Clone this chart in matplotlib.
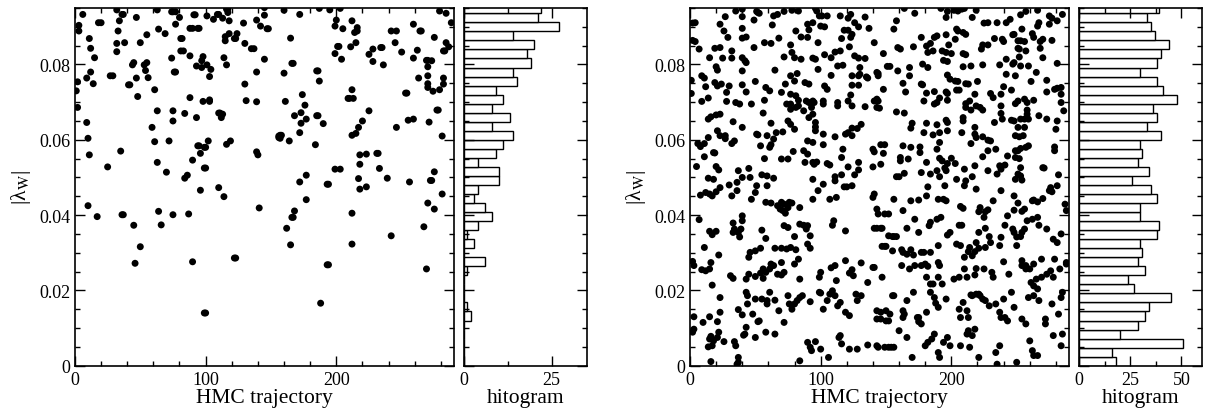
import matplotlib
matplotlib.use("Agg")
import matplotlib.pyplot as plt
from matplotlib.ticker import MultipleLocator, FuncFormatter

# |lambda_W| per HMC trajectory (trajectory, value)
left_points = [
    (1, .0730), (2, .0754), (2, .0686), (3, .0904), (3, .0889), (6, .0933), (9, .0764), (9, .0646),
    (10, .0604), (10, .0425), (11, .0869), (11, .0560), (12, .0843), (12, .0780), (14, .0749),
    (15, .0818), (17, .0396), (18, .0911), (20, .0911), (25, .0528), (27, .0770), (29, .0770),
    (32, .0945), (33, .0889), (34, .0916), (32, .0856), (32, .0834), (35, .0570), (36, .0933),
    (37, .0933), (38, .0858), (36, .0401), (37, .0401), (41, .0746), (42, .0746), (44, .0799),
    (45, .0805), (45, .0373), (46, .0272), (47, .0925), (47, .0764), (48, .0715), (50, .0858),
    (50, .0316), (53, .0799), (55, .0805), (55, .0879), (54, .0784), (56, .0765), (59, .0633),
    (61, .0733), (61, .0595), (63, .0945), (63, .0677), (63, .0540), (64, .0894), (64, .0410),
    (66, .0374), (69, .0882), (70, .0514), (72, .0597), (74, .0817), (74, .0940), (75, .0940),
    (75, .0677), (75, .0650), (75, .0401), (76, .0780), (77, .0780), (77, .0940), (77, .0907),
    (80, .0925), (81, .0869), (82, .0869), (81, .0836), (83, .0836), (84, .0498), (84, .0670),
    (86, .0506), (87, .0403), (88, .0712), (88, .0823), (88, .0896), (90, .0896), (90, .0546),
    (90, .0276), (91, .0932), (92, .0932), (93, .0796), (93, .0659), (94, .0896), (95, .0896),
    (94, .0584), (95, .0584), (96, .0564), (96, .0466), (97, .0792), (97, .0810), (98, .0821),
    (98, .0702), (99, .0580), (100, .0580), (99, .0525), (100, .0525), (99, .0140), (100, .0140),
    (101, .0929), (101, .0799), (102, .0597), (103, .0768), (103, .0702), (103, .0706), (104, .0787),
    (106, .0920), (109, .0933), (110, .0933), (110, .0671), (111, .0671), (110, .0473), (112, .0659),
    (113, .0923), (113, .0668), (114, .0818), (114, .0449), (115, .0863), (115, .0874), (116, .0947),
    (117, .0947), (116, .0799), (116, .0588), (117, .0938), (118, .0916), (118, .0882), (119, .0597),
    (122, .0869), (123, .0869), (124, .0882), (122, .0286), (123, .0286), (129, .0910), (130, .0856),
    (130, .0748), (131, .0704), (135, .0842), (137, .0842), (139, .0918), (139, .0780), (139, .0701),
    (139, .0568), (140, .0560), (141, .0419), (142, .0902), (145, .0931), (145, .0951), (145, .0814),
    (147, .0895), (148, .0895), (156, .0606), (157, .0612), (158, .0612), (156, .0610), (157, .0604),
    (160, .0944), (160, .0777), (161, .0702), (162, .0365), (164, .0597), (165, .0870), (165, .0321),
    (166, .0803), (167, .0803), (166, .0394), (167, .0394), (168, .0411), (168, .0664), (172, .0619),
    (172, .0488), (172, .0933), (173, .0672), (173, .0644), (174, .0720), (176, .0692), (177, .0655),
    (177, .0441), (177, .0506), (184, .0587), (185, .0783), (186, .0783), (185, .0664), (186, .0664),
    (187, .0949), (187, .0756), (188, .0166), (190, .0643), (193, .0482), (194, .0482), (193, .0268),
    (194, .0268), (195, .0945), (199, .0829), (199, .0902), (200, .0918), (201, .0848), (202, .0848),
    (199, .0522), (203, .0522), (203, .0949), (204, .0814), (205, .0895), (209, .0710), (210, .0710),
    (211, .0847), (212, .0733), (212, .0612), (212, .0405), (212, .0323), (212, .0916), (213, .0710),
    (214, .0885), (215, .0617), (215, .0858), (216, .0898), (216, .0889), (217, .0633), (217, .0497),
    (218, .0535), (218, .0560), (218, .0469), (220, .0650), (223, .0475), (223, .0562), (225, .0677),
    (225, .0827), (228, .0841), (228, .0808), (231, .0564), (232, .0564), (233, .0524), (234, .0845),
    (235, .0845), (236, .0799), (239, .0498), (242, .0889), (242, .0345), (245, .0858), (246, .0889),
    (246, .0633), (250, .0833), (253, .0724), (254, .0724), (256, .0488), (255, .0652), (259, .0655),
    (259, .0907), (259, .0817), (262, .0838), (263, .0764), (264, .0889), (265, .0889), (267, .0369),
    (269, .0257), (269, .0811), (270, .0811), (270, .0432), (270, .0794), (270, .0770), (270, .0749),
    (270, .0739), (271, .0647), (272, .0492), (273, .0492), (273, .0810), (274, .0729), (275, .0872),
    (275, .0515), (275, .0416), (277, .0679), (278, .0679), (279, .0942), (279, .0733), (281, .0610),
    (281, .0456), (282, .0764), (282, .0748), (282, .0836), (283, .0836), (284, .0858), (284, .0936),
    (286, .0847), (288, .0911),
]

right_points_upper = [
    (35, .0942), (40, .0947), (51, .0941), (52, .0938), (53, .0936), (78, .0944), (83, .0942), (27, .0927),
    (40, .0927), (49, .0918), (64, .0929), (67, .0933), (72, .0941), (2, .0910), (4, .0911), (23, .0907),
    (63, .0905), (90, .0907), (94, .0911), (26, .0889), (40, .0896), (81, .0889), (91, .0892), (2, .0864),
    (4, .0861), (29, .0872), (40, .0870), (43, .0873), (57, .0858), (62, .0856), (68, .0870), (85, .0873),
    (90, .0872), (7, .0841), (19, .0843), (23, .0845), (32, .0836), (49, .0845), (77, .0852), (15, .0818),
    (25, .0817), (32, .0817), (40, .0818), (42, .0810), (43, .0805), (72, .0820), (78, .0832), (80, .0818),
    (85, .0814), (94, .0817), (20, .0794), (21, .0785), (40, .0783), (65, .0785), (9, .0770), (11, .0764),
    (1, .0758), (19, .0752), (21, .0743), (24, .0748), (30, .0743), (40, .0746), (50, .0755), (58, .0739),
    (61, .0730), (73, .0748), (77, .0770), (82, .0776), (80, .0756), (88, .0752), (91, .0748), (1, .0723),
    (12, .0741), (28, .0726), (43, .0727), (70, .0726), (77, .0721), (81, .0717), (9, .0702), (14, .0711),
    (28, .0702), (35, .0699), (38, .0695), (47, .0695), (57, .0705), (74, .0695), (77, .0695), (83, .0705),
    (89, .0703), (91, .0699), (93, .0686), (14, .0655), (16, .0661), (20, .0666), (23, .0668), (56, .0671),
    (77, .0681), (81, .0686), (83, .0690), (87, .0677), (94, .0668), (33, .0648), (40, .0633), (62, .0644),
    (75, .0650), (77, .0641), (21, .0624), (27, .0611), (51, .0615), (52, .0613), (59, .0611), (66, .0619),
    (71, .0621), (80, .0628), (6, .0590), (8, .0582), (11, .0590), (14, .0606), (23, .0611), (27, .0603),
    (32, .0590), (34, .0597), (54, .0584), (61, .0580), (62, .0587), (64, .0602), (90, .0597), (94, .0593),
    (18, .0566), (19, .0565), (11, .0555), (57, .0550), (70, .0549), (75, .0549), (79, .0569), (87, .0571),
    (90, .0562), (5, .0529), (20, .0529), (22, .0520), (37, .0518), (45, .0524), (55, .0507), (59, .0504),
    (88, .0540), (94, .0540), (14, .0498), (18, .0495), (30, .0480), (36, .0487), (40, .0500), (46, .0500),
    (51, .0478), (59, .0478), (64, .0498), (23, .0473), (94, .0495),
    (96, .0949), (97, .0942), (99, .0929), (101, .0929), (105, .0929), (115, .0929), (121, .0923),
    (123, .0933), (134, .0926), (164, .0949), (172, .0936), (100, .0902), (103, .0900), (118, .0891),
    (121, .0891), (126, .0911), (129, .0900), (137, .0896), (158, .0916), (156, .0894), (98, .0858),
    (116, .0869), (123, .0872), (124, .0880), (141, .0858), (159, .0845), (161, .0841), (171, .0847),
    (177, .0872), (181, .0849), (184, .0856), (187, .0872), (189, .0876), (96, .0814), (103, .0826),
    (108, .0818), (111, .0833), (115, .0836), (122, .0847), (126, .0823), (129, .0817), (134, .0816),
    (130, .0792), (98, .0787), (113, .0796), (117, .0798), (148, .0829), (182, .0832), (186, .0836),
    (178, .0801), (182, .0792), (108, .0771), (124, .0770), (129, .0770), (130, .0774), (135, .0767),
    (136, .0764), (143, .0779), (144, .0776), (144, .0770), (151, .0795), (153, .0795), (159, .0783),
    (168, .0792), (168, .0770), (103, .0743), (105, .0734), (124, .0745), (129, .0745), (148, .0734),
    (163, .0750), (165, .0727), (177, .0748), (178, .0746), (181, .0724), (187, .0728), (94, .0703),
    (95, .0699), (102, .0703), (102, .0695), (113, .0699), (113, .0690), (123, .0719), (121, .0703),
    (124, .0690), (134, .0688), (141, .0703), (143, .0708), (144, .0703), (143, .0686), (145, .0684),
    (179, .0703), (187, .0695), (189, .0699), (158, .0674), (164, .0671), (91, .0659), (96, .0646),
    (96, .0634), (96, .0624), (102, .0615), (111, .0608), (119, .0615), (121, .0619), (124, .0631),
    (124, .0611), (128, .0630), (131, .0641), (170, .0644), (169, .0631), (181, .0644), (189, .0640),
    (179, .0619), (102, .0587), (117, .0575), (140, .0575), (141, .0568), (146, .0587), (149, .0587),
    (148, .0564), (163, .0584), (169, .0580), (176, .0581), (176, .0566), (95, .0535), (97, .0541),
    (105, .0537), (107, .0533), (116, .0553), (121, .0528), (129, .0540), (129, .0520), (140, .0528),
    (146, .0535), (161, .0553), (161, .0544), (167, .0549), (181, .0540), (189, .0575), (102, .0482),
    (111, .0502), (111, .0491), (116, .0507), (126, .0507), (118, .0475), (120, .0475), (124, .0478),
    (158, .0502), (160, .0502), (164, .0511), (177, .0513), (184, .0509), (189, .0518), (182, .0475),
    (192, .0949), (197, .0941), (196, .0925), (202, .0944), (205, .0942), (208, .0947), (210, .0949),
    (216, .0925), (219, .0944), (225, .0910), (228, .0911), (235, .0911), (242, .0911), (245, .0920),
    (254, .0894), (253, .0932), (257, .0941), (266, .0944), (267, .0911), (266, .0902), (275, .0929),
    (277, .0923), (275, .0907), (281, .0916), (285, .0933), (196, .0879), (204, .0894), (205, .0889),
    (209, .0885), (211, .0880), (203, .0867), (198, .0852), (193, .0836), (196, .0832), (200, .0829),
    (209, .0829), (211, .0826), (223, .0841), (224, .0852), (228, .0852), (233, .0869), (239, .0867),
    (240, .0861), (247, .0879), (248, .0880), (251, .0863), (253, .0863), (256, .0861), (262, .0882),
    (263, .0872), (268, .0861), (270, .0867), (251, .0843), (252, .0841), (257, .0836), (268, .0843),
    (270, .0818), (277, .0864), (194, .0811), (197, .0808), (209, .0794), (215, .0796), (224, .0799),
    (237, .0799), (242, .0814), (247, .0801), (248, .0805), (252, .0820), (253, .0796), (259, .0796),
    (265, .0779), (281, .0803), (197, .0772), (199, .0761), (203, .0756), (205, .0755), (211, .0749),
    (213, .0748), (220, .0755), (242, .0774), (249, .0770), (261, .0755), (273, .0758), (279, .0734),
    (281, .0737), (284, .0739), (196, .0727), (197, .0723), (204, .0732), (206, .0732), (218, .0721),
    (230, .0723), (232, .0712), (238, .0721), (240, .0741), (246, .0732), (256, .0708), (258, .0699),
    (263, .0705), (273, .0727), (284, .0721), (284, .0699), (191, .0711), (197, .0705), (211, .0696),
    (214, .0703), (211, .0686), (219, .0690), (222, .0686), (224, .0679), (238, .0690), (238, .0670),
    (249, .0696), (251, .0703), (258, .0679), (267, .0664), (286, .0677), (209, .0659), (209, .0650),
    (196, .0652), (197, .0646), (215, .0679), (233, .0646), (239, .0655), (246, .0652), (248, .0650),
    (251, .0633), (253, .0655), (256, .0655), (258, .0668), (259, .0655), (273, .0655), (281, .0650),
    (186, .0613), (191, .0619), (197, .0624), (208, .0619), (218, .0633), (218, .0615), (219, .0606),
    (224, .0608), (228, .0599), (230, .0597), (249, .0611), (252, .0608), (255, .0611), (256, .0633),
    (280, .0628), (191, .0593), (215, .0590), (234, .0575), (251, .0571), (253, .0577), (257, .0580),
    (259, .0584), (279, .0581), (279, .0571), (191, .0551), (193, .0544), (200, .0551), (197, .0537),
    (203, .0537), (224, .0555), (228, .0571), (243, .0557), (249, .0553), (252, .0550), (249, .0571),
    (195, .0525), (196, .0518), (210, .0522), (218, .0531), (228, .0518), (237, .0531), (238, .0522),
    (241, .0533), (253, .0526), (270, .0526), (271, .0525), (282, .0507), (191, .0502), (204, .0495),
    (211, .0491), (216, .0502), (235, .0509), (251, .0509), (253, .0504), (249, .0495), (254, .0493),
    (195, .0478), (210, .0478), (219, .0469), (276, .0473), (281, .0478),
]

right_points_lower = [
    (8, .0453), (12, .0460), (15, .0456), (17, .0451), (20, .0462), (36, .0465), (32, .0451), (47, .0442),
    (50, .0460), (58, .0434), (62, .0432), (67, .0425), (70, .0434), (72, .0429), (76, .0434), (78, .0432),
    (69, .0416), (71, .0412), (73, .0405), (75, .0420), (84, .0420), (94, .0442), (98, .0465), (107, .0442),
    (112, .0447), (140, .0447), (141, .0456), (156, .0442), (143, .0416), (144, .0403), (149, .0403),
    (152, .0403), (163, .0412), (169, .0438), (175, .0440), (181, .0451), (190, .0442), (194, .0442),
    (196, .0438), (209, .0418), (207, .0423), (222, .0420), (221, .0409), (226, .0409), (228, .0414),
    (248, .0413), (251, .0432), (254, .0410), (262, .0438), (263, .0440), (266, .0435), (270, .0444),
    (275, .0465), (277, .0462), (287, .0429), (232, .0438), (238, .0465), (248, .0451), (256, .0416),
    (7, .0388), (15, .0357), (17, .0348), (20, .0357), (33, .0379), (34, .0363), (39, .0363), (37, .0354),
    (33, .0354), (38, .0342), (40, .0398), (40, .0385), (58, .0338), (55, .0360), (72, .0372), (75, .0367),
    (80, .0343), (84, .0376), (87, .0373), (89, .0363), (90, .0372), (92, .0345), (110, .0385), (109, .0373),
    (119, .0358), (141, .0365), (143, .0365), (146, .0365), (147, .0365), (152, .0345), (155, .0343),
    (156, .0343), (158, .0343), (166, .0365), (172, .0389), (175, .0354), (183, .0372), (184, .0381),
    (189, .0389), (192, .0394), (197, .0347), (199, .0354), (206, .0373), (208, .0373), (221, .0354),
    (226, .0365), (229, .0343), (241, .0373), (247, .0363), (248, .0354), (250, .0342), (254, .0354),
    (256, .0363), (258, .0385), (262, .0389), (266, .0394), (267, .0373), (273, .0363), (284, .0350),
    (288, .0412), (278, .0336), (253, .0343), (225, .0394), (243, .0398), (219, .0327),
    (11, .0314), (22, .0294), (2, .0277), (45, .0288), (46, .0301), (50, .0305), (54, .0312), (65, .0312),
    (70, .0312), (74, .0310), (77, .0314), (81, .0308), (83, .0283), (90, .0323), (92, .0312), (80, .0270),
    (70, .0274), (61, .0257), (62, .0270), (111, .0266), (119, .0279), (131, .0273), (140, .0261),
    (147, .0317), (149, .0317), (150, .0317), (155, .0305), (162, .0308), (169, .0308), (163, .0301),
    (166, .0296), (171, .0294), (177, .0301), (179, .0301), (184, .0301), (190, .0319), (190, .0274),
    (191, .0266), (204, .0323), (207, .0319), (214, .0314), (213, .0303), (210, .0288), (216, .0292),
    (218, .0303), (221, .0312), (226, .0314), (237, .0319), (240, .0276), (250, .0319), (254, .0266),
    (257, .0257), (263, .0270), (269, .0283), (279, .0283), (288, .0274), (281, .0327), (238, .0341),
    (230, .0327), (180, .0270), (182, .0264),
    (3, .0266), (9, .0255), (12, .0252), (15, .0257), (16, .0274), (17, .0214), (31, .0239), (33, .0232),
    (43, .0230), (45, .0243), (50, .0237), (54, .0246), (56, .0257), (56, .0232), (58, .0248), (64, .0266),
    (67, .0243), (70, .0241), (72, .0248), (84, .0230), (99, .0235), (100, .0248), (108, .0260), (112, .0226),
    (122, .0246), (124, .0255), (125, .0239), (136, .0221), (141, .0261), (147, .0235), (162, .0266),
    (168, .0257), (172, .0266), (177, .0266), (181, .0235), (184, .0217), (190, .0235), (202, .0230),
    (206, .0235), (210, .0257), (212, .0235), (218, .0241), (219, .0258), (225, .0257), (232, .0235),
    (244, .0243), (254, .0279), (257, .0266), (260, .0257), (261, .0221), (265, .0230), (269, .0235),
    (273, .0243), (276, .0252), (278, .0235), (283, .0257), (288, .0270), (186, .0217), (193, .0217),
    (231, .0248), (263, .0212), (266, .0204),
    (23, .0181), (44, .0186), (43, .0195), (44, .0164), (50, .0177), (55, .0177), (59, .0173), (61, .0195),
    (65, .0174), (68, .0146), (75, .0186), (76, .0164), (78, .0150), (80, .0164), (82, .0173), (84, .0181),
    (86, .0186), (92, .0170), (99, .0195), (100, .0193), (102, .0150), (105, .0173), (107, .0190),
    (109, .0199), (111, .0186), (113, .0159), (115, .0168), (119, .0142), (122, .0133), (127, .0190),
    (128, .0173), (131, .0186), (143, .0146), (146, .0142), (150, .0146), (153, .0137), (155, .0186),
    (156, .0186), (163, .0146), (164, .0137), (163, .0128), (166, .0173), (171, .0195), (175, .0128),
    (181, .0142), (184, .0195), (187, .0181), (188, .0166), (190, .0155), (196, .0177), (206, .0150),
    (207, .0128), (209, .0168), (212, .0146), (213, .0128), (215, .0188), (216, .0186), (219, .0190),
    (221, .0190), (222, .0186), (224, .0177), (226, .0173), (229, .0159), (234, .0164), (240, .0177),
    (246, .0195), (248, .0155), (259, .0181), (263, .0186), (267, .0173), (277, .0164), (284, .0181),
    (285, .0195), (23, .0142), (15, .0130), (3, .0130), (21, .0117), (10, .0115), (37, .0149), (40, .0135),
    (48, .0137), (59, .0164), (237, .0142), (272, .0124), (282, .0137), (241, .0128),
    (3, .0097), (2, .0089), (16, .0078), (15, .0071), (18, .0066), (21, .0075), (22, .0089), (26, .0064),
    (17, .0053), (14, .0050), (16, .0011), (34, .0064), (35, .0053), (36, .0004), (37, .0009), (37, .0022),
    (41, .0081), (42, .0084), (43, .0102), (50, .0075), (52, .0117), (53, .0119), (58, .0089), (65, .0084),
    (72, .0115), (84, .0013), (90, .0062), (92, .0049), (93, .0040), (96, .0064), (100, .0044), (106, .0022),
    (114, .0075), (115, .0080), (116, .0058), (122, .0044), (128, .0044), (136, .0055), (143, .0053),
    (144, .0049), (149, .0049), (152, .0049), (154, .0049), (156, .0049), (143, .0124), (146, .0124),
    (150, .0119), (152, .0119), (160, .0093), (166, .0075), (170, .0022), (174, .0128), (175, .0117),
    (177, .0111), (180, .0053), (182, .0062), (185, .0071), (187, .0084), (190, .0035), (191, .0022),
    (194, .0062), (197, .0075), (199, .0053), (207, .0053), (212, .0084), (213, .0093), (216, .0080),
    (218, .0097), (214, .0049), (221, .0022), (234, .0035), (237, .0053), (238, .0128), (250, .0009),
    (254, .0124), (257, .0111), (260, .0066), (262, .0040), (263, .0027), (266, .0027), (272, .0111),
    (278, .0080), (284, .0053), (285, .0084), (235, .0004), (243, .0119),
]

# histogram counts, one per bin of 0.0024 starting at 0 (bottom to top)
bin_width = 0.0024
left_hist = [0, 0, 0, 0, 0, 2, 1, 0, 0, 0, 1, 6, 0, 3, 1, 4, 8, 6, 3, 4,
             10, 10, 4, 9, 11, 14, 8, 13, 8, 11, 9, 15, 14, 19, 18, 20, 14, 27, 21, 22]
right_hist = [18, 16, 51, 20, 29, 32, 34, 45, 27, 24, 32, 29, 31, 30, 38, 39, 30, 30, 38, 35,
              26, 34, 29, 31, 30, 40, 33, 38, 36, 48, 41, 38, 30, 38, 40, 44, 37, 35, 33, 39]

plt.rcParams['font.family'] = ['Liberation Serif', 'DejaVu Serif']
plt.rcParams['mathtext.fontset'] = 'stix'


def style_ticks(ax):
    ax.tick_params(which='both', direction='in', top=True, right=True,
                   width=1, labelsize=13)
    ax.tick_params(which='major', length=7)
    ax.tick_params(which='minor', length=3.5)
    for sp in ax.spines.values():
        sp.set_linewidth(1.2)


def y_fmt(v, pos):
    if abs(v) < 1e-9:
        return "0"
    return f"{v:.2f}"


def draw_panel(fig, left, points, counts, hist_max):
    ax = fig.add_axes([left, 0.1056, 0.3145, 0.8724])
    hx = fig.add_axes([left + 0.3228, 0.1056, 0.1020, 0.8724])

    xs = [p[0] for p in points]
    ys = [p[1] for p in points]
    ax.scatter(xs, ys, s=25, c='black', edgecolors='none')
    ax.set_xlim(0, 290)
    ax.set_ylim(0, 0.095)
    ax.xaxis.set_major_locator(MultipleLocator(100))
    ax.xaxis.set_minor_locator(MultipleLocator(20))
    ax.yaxis.set_major_locator(MultipleLocator(0.02))
    ax.yaxis.set_minor_locator(MultipleLocator(0.005))
    ax.yaxis.set_major_formatter(FuncFormatter(y_fmt))
    ax.set_xlabel("HMC trajectory", fontsize=15.5, labelpad=0)
    ax.set_ylabel("|λ$_{\\rm W}$|", fontsize=15.5, labelpad=4)
    style_ticks(ax)

    # histogram of the same values, drawn sideways
    bottoms = [i * bin_width for i in range(len(counts))]
    hx.barh(bottoms, counts, height=bin_width, align='edge',
            color='white', edgecolor='black', linewidth=1)
    hx.set_xlim(0, hist_max)
    hx.set_ylim(0, 0.095)
    hx.xaxis.set_major_locator(MultipleLocator(25))
    hx.xaxis.set_minor_locator(MultipleLocator(12.5))
    hx.yaxis.set_major_locator(MultipleLocator(0.02))
    hx.yaxis.set_minor_locator(MultipleLocator(0.005))
    hx.tick_params(axis='y', which='both', labelleft=False)
    hx.set_xlabel("hitogram", fontsize=15.5, labelpad=0)
    style_ticks(hx)
    return ax, hx


fig = plt.figure(figsize=(12.05, 4.10), dpi=100)
draw_panel(fig, 0.0622, left_points, left_hist, 35)
draw_panel(fig, 0.5726, right_points_upper + right_points_lower, right_hist, 60)
fig.savefig("out.png", dpi=100)
